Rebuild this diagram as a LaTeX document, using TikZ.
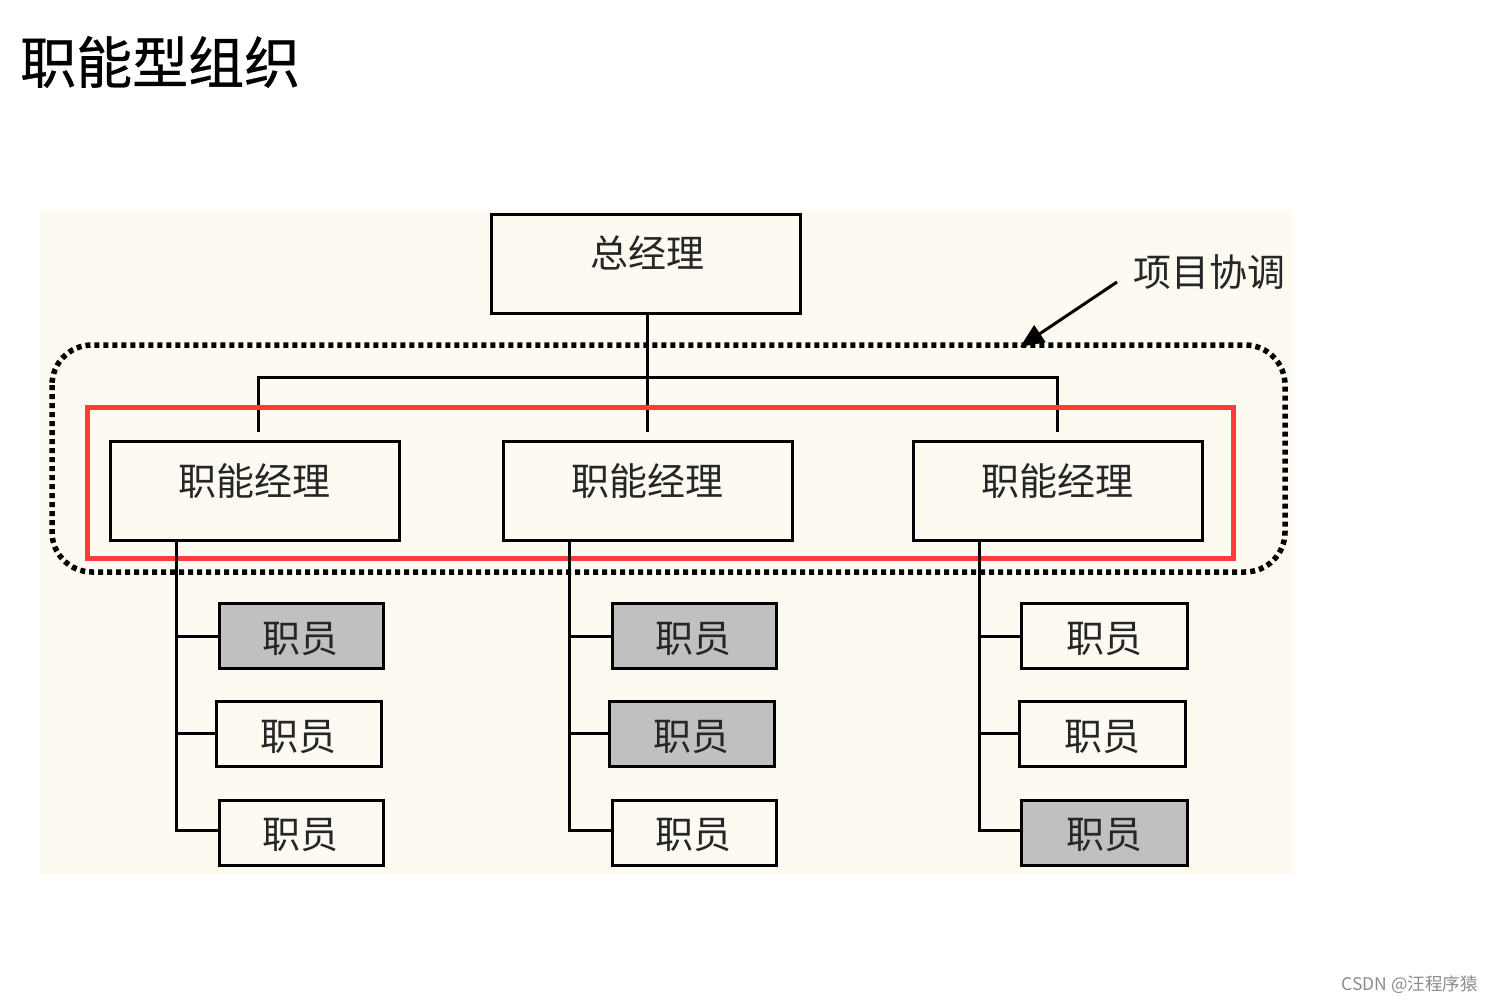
\documentclass[tikz,border=0pt]{standalone}
\usepackage{fontspec}
\newfontfamily\cjk{Noto Sans CJK SC}
\newfontfamily\cjktitle[FakeBold=0.6]{Noto Sans CJK SC}
\usetikzlibrary{arrows.meta}
\definecolor{panel}{HTML}{FDFAF1}
\definecolor{staffgray}{HTML}{C0C0C0}
\definecolor{redframe}{HTML}{FF3B3B}
\tikzset{
  box/.style={draw=black, line width=3pt, fill=panel},
  boxtext/.style={font=\cjk\fontsize{38}{42}\selectfont, text=black!85, inner sep=0pt},
  conn/.style={line width=3pt, draw=black},
  staff/.style={box},
  staffg/.style={box, fill=staffgray},
}
\begin{document}
\begin{tikzpicture}[x=1pt,y=-1pt]
\useasboundingbox (0,0) rectangle (1494,1003);
\fill[white] (0,0) rectangle (1494,1003);
% panel
\fill[panel] (40,210) rectangle (1293,875);
% title
\node[font=\cjktitle\fontsize{56}{62}\selectfont, anchor=west, inner sep=0pt] (title) at (20,62) {职能型组织};
% general manager
\draw[box] (491,215) rectangle (800,313);
\coordinate (gmbot) at (647,313);
\node[boxtext] (gm) at (647,253) {总经理};
% functional managers
\draw[box] (110,441) rectangle (399,540);
\draw[box] (503,441) rectangle (792,540);
\draw[box] (913,441) rectangle (1202,540);
\node[boxtext] (fm1) at (254,481) {职能经理};
\node[boxtext] (fm2) at (647,481) {职能经理};
\node[boxtext] (fm3) at (1057,481) {职能经理};
% connectors top
\coordinate (h1) at (258,377);
\coordinate (h3) at (1057,377);
\draw[conn] (gmbot) -- (647,432);
\draw[conn] (258,432) -- (h1) -- (h3) -- (1057,432);
% dotted coordination frame
\draw[line width=5.5pt, dash pattern=on 5pt off 4pt] (52,345) [rounded corners=40pt] rectangle (1285,572);
% red highlight
\draw[redframe, line width=5pt] (87,407) rectangle (1233,558);
% staff column 1
\draw[conn] (176,540) -- (176,830) -- (219,830);
\draw[conn] (176,636) -- (219,636);
\draw[conn] (176,733) -- (216,733);
\draw[staffg] (219,603) rectangle (383,668);
\draw[staff] (216,701) rectangle (381,766);
\draw[staff] (219,800) rectangle (383,865);
\node[boxtext] (s11) at (300,639) {职员};
\node[boxtext] (s12) at (298,737) {职员};
\node[boxtext] (s13) at (300,835) {职员};
% staff column 2
\draw[conn] (569,540) -- (569,830) -- (612,830);
\draw[conn] (569,636) -- (612,636);
\draw[conn] (569,733) -- (609,733);
\draw[staffg] (612,603) rectangle (776,668);
\draw[staffg] (609,701) rectangle (774,766);
\draw[staff] (612,800) rectangle (776,865);
\node[boxtext] (s21) at (693,639) {职员};
\node[boxtext] (s22) at (691,737) {职员};
\node[boxtext] (s23) at (693,835) {职员};
% staff column 3
\draw[conn] (979,540) -- (979,830) -- (1021,830);
\draw[conn] (979,636) -- (1021,636);
\draw[conn] (979,733) -- (1019,733);
\draw[staff] (1021,603) rectangle (1187,668);
\draw[staff] (1019,701) rectangle (1185,766);
\draw[staffg] (1021,800) rectangle (1187,865);
\node[boxtext] (s31) at (1104,639) {职员};
\node[boxtext] (s32) at (1102,737) {职员};
\node[boxtext] (s33) at (1104,835) {职员};
% project coordination label and arrow
\node[boxtext, anchor=west] (pc) at (1133,272) {项目协调};
\coordinate (arrtip) at (1020,347);
\draw[line width=3pt, -{Triangle[length=24pt,width=20pt]}] (1117,282) -- (arrtip);
% watermark
\node[font=\cjk\fontsize{17.5}{19}\selectfont, text=black!45, anchor=east, inner sep=0pt] (wm) at (1478,985) {CSDN @汪程序猿};
\end{tikzpicture}
\end{document}
